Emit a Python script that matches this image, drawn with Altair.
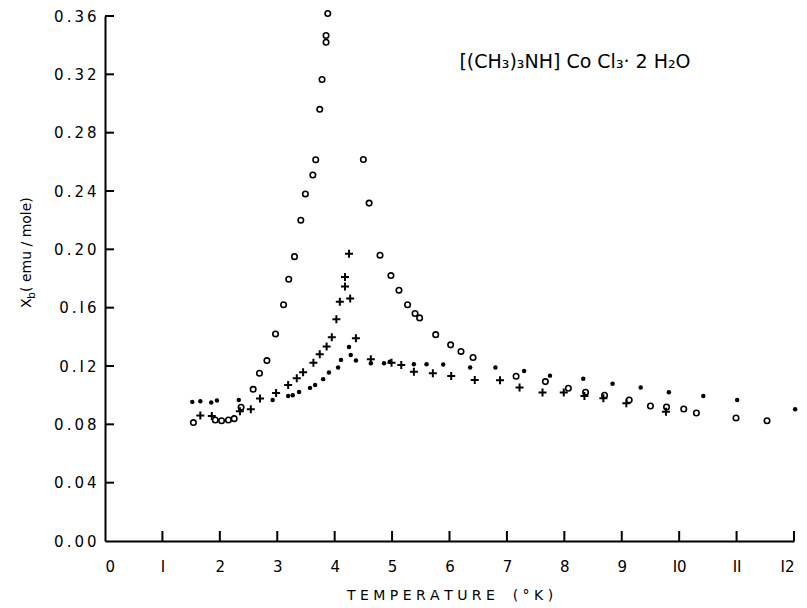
import altair as alt
import pandas as pd

# open circles
circ_t = [1.54, 1.92, 2.03, 2.15, 2.25, 2.37, 2.58, 2.69, 2.82, 2.97, 3.11, 3.20, 3.30, 3.41,
          3.49, 3.62, 3.67, 3.74, 3.78, 3.85, 3.85, 3.88, 4.50, 4.60, 4.79, 4.98, 5.12, 5.27,
          5.40, 5.48, 5.76, 6.02, 6.20, 6.41, 7.16, 7.67, 8.07, 8.37, 8.70, 9.13, 9.50, 9.78,
          10.08, 10.30, 10.99, 11.53]
circ_x = [0.0812, 0.0830, 0.0825, 0.0830, 0.0839, 0.0917, 0.1040, 0.1150, 0.1237, 0.1420,
          0.1620, 0.1795, 0.1950, 0.2200, 0.2380, 0.2510, 0.2614, 0.2960, 0.3165, 0.3420,
          0.3466, 0.3617, 0.2616, 0.2317, 0.1960, 0.1820, 0.1720, 0.1620, 0.1560, 0.1530,
          0.1415, 0.1345, 0.1300, 0.1258, 0.1130, 0.1093, 0.1047, 0.1020, 0.1000, 0.0967,
          0.0926, 0.0919, 0.0905, 0.0878, 0.0844, 0.0825]

# solid dots
dot_t = [1.52, 1.66, 1.85, 1.95, 2.33, 2.92, 3.19, 3.27, 3.38, 3.57, 3.66, 3.80, 3.90, 4.06,
         4.11, 4.25, 4.28, 4.37, 4.63, 4.86, 4.96, 5.38, 5.60, 5.89, 6.36, 6.80, 7.30, 7.75,
         8.33, 8.84, 9.33, 9.82, 10.42, 11.01, 12.02]
dot_x = [0.0954, 0.0958, 0.0950, 0.0963, 0.0967, 0.0967, 0.0995, 0.1000, 0.1022, 0.1050,
         0.1070, 0.1110, 0.1155, 0.1190, 0.1242, 0.1330, 0.1276, 0.1237, 0.1219, 0.1219,
         0.1230, 0.1212, 0.1212, 0.1210, 0.1190, 0.1190, 0.1166, 0.1134, 0.1113, 0.1079,
         0.1052, 0.1020, 0.0995, 0.0967, 0.0903]

# crosses
cross_t = [1.66, 1.86, 2.35, 2.54, 2.70, 2.98, 3.19, 3.34, 3.45, 3.63, 3.74, 3.86, 3.95, 4.03,
           4.09, 4.27, 4.18, 4.18, 4.25, 4.37, 4.63, 4.99, 5.16, 5.38, 5.71, 6.03, 6.44, 6.88,
           7.22, 7.62, 7.99, 8.35, 8.68, 9.08, 9.77]
cross_x = [0.0860, 0.0858, 0.0889, 0.0903, 0.0978, 0.1015, 0.1070, 0.1116, 0.1157, 0.1223,
           0.1280, 0.1333, 0.1397, 0.1520, 0.1640, 0.1663, 0.1745, 0.1810, 0.1970, 0.1390,
           0.1246, 0.1223, 0.1207, 0.1160, 0.1150, 0.1132, 0.1104, 0.1102, 0.1052, 0.1018,
           0.1018, 0.0995, 0.0979, 0.0945, 0.0887]

y_ticks = [0.00, 0.04, 0.08, 0.12, 0.16, 0.20, 0.24, 0.28, 0.32, 0.36]
x_ticks = [0, 1, 2, 3, 4, 5, 6, 7, 8, 9, 10, 11, 12]

W, H = 689, 525
FONT = "DejaVu Sans"

df_c = pd.DataFrame({"t": circ_t, "x": circ_x})
df_d = pd.DataFrame({"t": dot_t, "x": dot_x})
df_p = pd.DataFrame({"t": cross_t, "x": cross_x})
df_yt = pd.DataFrame({"v": y_ticks[1:]})
df_xt = pd.DataFrame({"v": x_ticks[1:]})

xs = alt.Scale(domain=[0, 12], nice=False, zero=False)
ys = alt.Scale(domain=[0, 0.36], nice=False, zero=False)

y_label_expr = "join(split(replace(datum.label, /1/g, 'I'), ''), '\u2009')"
x_label_expr = "replace(datum.label, /1/g, 'I')"

NB = "\u00a0"
x_title = " ".join("TEMPERATURE") + NB * 4 + "(" + NB + "°" + NB + "K" + NB + ")"

xaxis = alt.Axis(values=x_ticks, format="d", tickSize=0, grid=False, domainColor="black",
                 domainWidth=2, labelFont=FONT, labelFontSize=15, labelColor="black",
                 labelPadding=18, labelExpr=x_label_expr,
                 title=x_title, titleFont=FONT, titleFontSize=14,
                 titleFontWeight="normal", titleColor="black", titlePadding=14)
yaxis = alt.Axis(values=y_ticks, tickSize=0, grid=False, domainColor="black", domainWidth=2,
                 format=".2f", labelFont=FONT, labelFontSize=15, labelColor="black",
                 labelPadding=9, labelExpr=y_label_expr, title=None)

base_x = alt.X("t:Q", scale=xs, axis=xaxis)
base_y = alt.Y("x:Q", scale=ys, axis=yaxis)

circles = alt.Chart(df_c).mark_point(shape="circle", filled=False, size=30, strokeWidth=1.6,
                                     color="black", opacity=1).encode(x=base_x, y=base_y)
dots = alt.Chart(df_d).mark_circle(size=20, color="black", opacity=1).encode(
    x=alt.X("t:Q", scale=xs), y=alt.Y("x:Q", scale=ys))
crosses = alt.Chart(df_p).mark_point(shape="M-1,0H1M0,-1V1", size=64, strokeWidth=2,
                                     filled=False, color="black", opacity=1).encode(
    x=alt.X("t:Q", scale=xs), y=alt.Y("x:Q", scale=ys))

ytick_marks = alt.Chart(df_yt).mark_rule(color="black", strokeWidth=2).encode(
    y=alt.Y("v:Q", scale=ys), x=alt.value(0), x2=alt.value(9))
xtick_marks = alt.Chart(df_xt).mark_rule(color="black", strokeWidth=2).encode(
    x=alt.X("v:Q", scale=xs), y=alt.value(H), y2=alt.value(H - 10))

formula = "[(CH₃)₃NH] Co Cl₃· 2 H₂O"
title_txt = alt.Chart(pd.DataFrame({"s": [formula]})).mark_text(
    font=FONT, fontSize=19, color="black", align="center", baseline="middle").encode(
    text="s:N", x=alt.value(470), y=alt.value(46))

ylab_main = alt.Chart(pd.DataFrame({"s": ["X"]})).mark_text(
    font=FONT, fontSize=14, color="black", align="left", baseline="middle", angle=270).encode(
    text="s:N", x=alt.value(-78), y=alt.value(292))
ylab_sub = alt.Chart(pd.DataFrame({"s": ["b"]})).mark_text(
    font=FONT, fontSize=11, color="black", align="left", baseline="middle", angle=270).encode(
    text="s:N", x=alt.value(-73), y=alt.value(283))
ylab_rest = alt.Chart(pd.DataFrame({"s": ["( emu / mole)"]})).mark_text(
    font=FONT, fontSize=14, color="black", align="left", baseline="middle", angle=270).encode(
    text="s:N", x=alt.value(-78), y=alt.value(276))

chart = alt.layer(circles, dots, crosses, ytick_marks, xtick_marks, title_txt,
                  ylab_main, ylab_sub, ylab_rest).properties(
    width=W, height=H,
    autosize=alt.AutoSizeParams(type="none"),
    padding={"left": 105, "top": 16, "right": 13, "bottom": 67},
    background="white",
).configure_view(stroke=None)

chart.save("out.html", embed_options={"renderer": "svg", "actions": False})
